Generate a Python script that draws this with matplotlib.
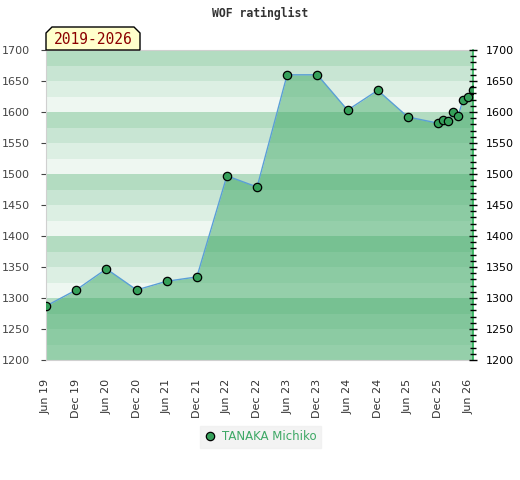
import matplotlib
matplotlib.use("Agg")
import matplotlib.pyplot as plt
from matplotlib.patches import Polygon
from datetime import date

# ---- data ----
dates = ["2019-06", "2019-12", "2020-06", "2020-12", "2021-06", "2021-12",
         "2022-06", "2022-12", "2023-06", "2023-12", "2024-06", "2024-12",
         "2025-06", "2025-12", "2026-01", "2026-02", "2026-03", "2026-04",
         "2026-05", "2026-06", "2026-07"]
ratings = [1287, 1313, 1347, 1313, 1327, 1334,
           1497, 1479, 1660, 1660, 1603, 1635,
           1592, 1582, 1587, 1585, 1600, 1593,
           1619, 1625, 1635]
player = "TANAKA Michiko"
title = "WOF ratinglist"
period = "2019-2026"
tick_labels_dates = ["2019-06", "2019-12", "2020-06", "2020-12", "2021-06", "2021-12",
                     "2022-06", "2022-12", "2023-06", "2023-12", "2024-06", "2024-12",
                     "2025-06", "2025-12", "2026-06"]

def to_date(s):
    y, m = s.split("-")
    return date(int(y), int(m), 1)

x = [to_date(d) for d in dates]
xt = [to_date(d) for d in tick_labels_dates]

W, H = 520, 480
fig = plt.figure(figsize=(W / 100, H / 100), dpi=100)
L, R, T, B = 46, 473, 50, 360
ax = fig.add_axes([L / W, 1 - B / H, (R - L) / W, (B - T) / H])

ymin, ymax = 1200, 1700
ax.set_ylim(ymin, ymax)
ax.set_xlim(to_date("2019-06"), to_date("2026-07"))

# stripes
stripe_cols = ["#eef7f1", "#dcefe3", "#c8e5d3", "#b3dcc1"]
for base in range(ymin, ymax, 100):
    for k in range(4):
        ax.axhspan(base + 25 * k, base + 25 * (k + 1), color=stripe_cols[k], lw=0, zorder=0)

green = "#3da865"
ax.fill_between(x, ratings, ymin, color=green, alpha=0.5, lw=0, zorder=1)
ax.plot([x[0], x[0]], [ymin, ratings[0]], color="#2e9a50", lw=1.2, zorder=2)
ax.plot(x, ratings, color="#5a9fd6", lw=1.0, zorder=3)
ax.plot(x, ratings, ls="none", marker="o", ms=6, mfc="#35a05a", mec="black", mew=0.9, zorder=4)

# axes styling
for s in ["top", "left", "bottom"]:
    ax.spines[s].set_color("#d0d0d0")
ax.spines["right"].set_color("#2eb35a")
ax.spines["right"].set_linewidth(1.2)

ax.set_yticks(range(ymin, ymax + 1, 50))
ax.tick_params(axis="y", left=False, labelleft=True, labelsize=8, colors="#444444", pad=8)
ax.set_xticks(xt)
ax.set_xticklabels([d.strftime("%b %y") for d in xt], rotation=90, fontsize=8, color="#333333")
ax.tick_params(axis="x", bottom=False, pad=10)

ax2 = ax.twinx()
ax2.set_ylim(ymin, ymax)
ax2.set_yticks(range(ymin, ymax + 1, 50))
ax2.set_yticks(range(ymin, ymax + 1, 10), minor=True)
ax2.tick_params(axis="y", which="major", direction="inout", length=6, width=1, colors="black", labelsize=8, pad=6)
ax2.tick_params(axis="y", which="minor", direction="inout", length=4, width=1, colors="black")
for s in ["top", "left", "bottom", "right"]:
    ax2.spines[s].set_visible(False)

# title
fig.text(260 / W, 1 - 13 / H, title, ha="center", va="center",
         family="DejaVu Sans Mono", fontweight="bold", fontsize=8.3, color="#333333")

# period tag
pts = [(46, 50), (46, 33), (52, 27), (134, 27), (140, 33), (140, 50)]
poly = Polygon([(px / W, 1 - py / H) for px, py in pts], closed=True,
               transform=fig.transFigure, facecolor="#ffffcc", edgecolor="black", lw=1.0)
fig.patches.append(poly)
fig.text(93 / W, 1 - 40 / H, period, ha="center", va="center",
         family="DejaVu Sans Mono", fontsize=10.5, color="#8b0000")

# legend
h, = ax.plot([], [], ls="none", marker="o", ms=6, mfc="#35a05a", mec="black", mew=0.9)
leg = fig.legend([h], [player], loc="center", bbox_to_anchor=(260.5 / W, 1 - 437 / H),
                 frameon=True, fancybox=False, facecolor="#f0f0f0", edgecolor="#f0f0f0",
                 fontsize=8.5, handletextpad=0.5, borderpad=0.35, handlelength=1.0)
for t in leg.get_texts():
    t.set_color("#3da865")

fig.savefig("out.png", dpi=100)
